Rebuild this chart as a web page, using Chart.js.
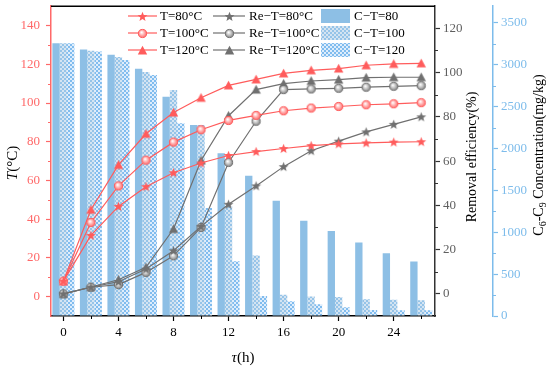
<!DOCTYPE html>
<html>
<head>
<meta charset="utf-8">
<script src="https://cdn.jsdelivr.net/npm/chart.js@4.4.0/dist/chart.umd.min.js"></script>
<style>
html, body { margin: 0; padding: 0; background: #fff; }
</style>
</head>
<body>
<canvas id="mycanvas" width="550" height="369"></canvas>
<script>
// data
var hours = [0, 2, 4, 6, 8, 10, 12, 14, 16, 18, 20, 22, 24, 26];

var tempT80  = [8, 31.6, 46.6, 56.8, 64.0, 69.0, 72.9, 74.9, 76.5, 78.0, 78.9, 79.4, 79.8, 80.0];
var tempT100 = [8, 38.3, 57.2, 70.5, 79.8, 86.2, 91.0, 93.6, 96.0, 97.4, 98.2, 99.1, 99.6, 100.2];
var tempT120 = [8, 44.9, 68.0, 84.1, 95.1, 102.7, 109.1, 112.2, 115.3, 116.9, 117.8, 119.5, 120.2, 120.5];

var remT80  = [0, 3.0, 5.5, 11.2, 19.5, 30.5, 40.5, 48.8, 57.5, 64.7, 69.0, 73.2, 76.6, 80.0];
var remT100 = [0, 3.0, 4.2, 9.7, 17.2, 30.0, 59.4, 78.0, 92.3, 92.6, 92.9, 93.4, 93.8, 94.1];
var remT120 = [0, 3.1, 6.4, 12.0, 29.3, 60.3, 80.5, 92.3, 95.0, 96.2, 96.8, 97.7, 97.9, 97.9];

var concT80  = [3258, 3183, 3119, 2952, 2619, 2282, 1945, 1675, 1377, 1139, 1016, 877, 750, 651];
var concT100 = [3258, 3167, 3092, 2913, 2700, 2282, 1310, 723, 255, 234, 226, 199, 195, 187];
var concT120 = [3258, 3160, 3056, 2877, 2302, 1290, 655, 238, 175, 139, 104, 72, 68, 68];

var xTicks = [0, 4, 8, 12, 16, 20, 24];
var tTicks = [0, 20, 40, 60, 80, 100, 120, 140];
var reTicks = [0, 20, 40, 60, 80, 100, 120];
var concTicks = [0, 500, 1000, 1500, 2000, 2500, 3000, 3500];

var FONT = 'Liberation Serif';
var red = 'rgb(255,92,92)';
var redAxis = 'rgb(255,105,105)';
var gray = 'rgb(112,112,112)';
var blueAxis = 'rgb(125,188,235)';
var solidBlue = 'rgb(141,191,229)';

function makeMarker(shape, color, light) {
    var c = document.createElement('canvas');
    c.width = 11; c.height = 11;
    var g = c.getContext('2d');
    g.fillStyle = color; g.strokeStyle = color; g.lineWidth = 1;
    g.beginPath();
    if (shape == 'star') {
        for (var i = 0; i < 10; i++) {
            var r = i % 2 ? 2.2 : 5.2;
            var a = -Math.PI / 2 + i * Math.PI / 5;
            var px = 5.5 + r * Math.cos(a), py = 5.9 + r * Math.sin(a);
            if (i) g.lineTo(px, py); else g.moveTo(px, py);
        }
        g.closePath(); g.fill();
    } else if (shape == 'tri') {
        g.moveTo(5.5, 0.8); g.lineTo(10.2, 9.6); g.lineTo(0.8, 9.6);
        g.closePath(); g.fill();
    } else {
        var grd = g.createRadialGradient(4.5, 4.3, 0.3, 5.5, 5.5, 4.8);
        grd.addColorStop(0, '#ffffff');
        grd.addColorStop(0.5, light);
        grd.addColorStop(1, color);
        g.fillStyle = grd;
        g.arc(5.5, 5.5, 4.1, 0, Math.PI * 2);
        g.fill(); g.stroke();
    }
    return c;
}

function makeChecker(c1, c2) {
    var t = document.createElement('canvas');
    t.width = 4; t.height = 4;
    var g = t.getContext('2d');
    g.fillStyle = c1; g.fillRect(0, 0, 4, 4);
    g.fillStyle = c2; g.fillRect(0, 0, 2, 2); g.fillRect(2, 2, 2, 2);
    return g.createPattern(t, 'repeat');
}

var pat100 = makeChecker('rgb(150,196,232)', 'rgb(212,228,242)');
var pat120 = makeChecker('rgb(128,188,238)', 'rgb(222,237,252)');

function lineSet(label, data, axis, color, marker) {
    return {
        type: 'line', label: label, data: data, yAxisID: axis,
        borderColor: color, backgroundColor: color, borderWidth: 1.2,
        tension: 0, fill: false, pointStyle: marker, pointRadius: 5, order: 1
    };
}

function barSet(label, data, fillStyle) {
    return {
        type: 'bar', label: label, data: data, yAxisID: 'yC',
        backgroundColor: fillStyle, borderWidth: 0,
        categoryPercentage: 0.8, barPercentage: 1.0, order: 2
    };
}

var datasets = [
    lineSet('T=80°C', tempT80, 'yT', red, makeMarker('star', red)),
    lineSet('T=100°C', tempT100, 'yT', red, makeMarker('circle', red, 'rgb(255,170,170)')),
    lineSet('T=120°C', tempT120, 'yT', red, makeMarker('tri', red)),
    lineSet('Re−T=80°C', remT80, 'yR', gray, makeMarker('star', gray)),
    lineSet('Re−T=100°C', remT100, 'yR', gray, makeMarker('circle', gray, 'rgb(190,190,190)')),
    lineSet('Re−T=120°C', remT120, 'yR', gray, makeMarker('tri', gray)),
    barSet('C−T=80', concT80, solidBlue),
    barSet('C−T=100', concT100, pat100),
    barSet('C−T=120', concT120, pat120)
];

function fixedTicks(list) {
    return function (axis) { axis.ticks = list.map(function (v) { return { value: v }; }); };
}

function vFit(w) {
    return function (s) { s.width = w; s.paddingTop = 0; s.paddingBottom = 0; };
}

function yScale(pos, min, max, list, color, labelColor, width, weight) {
    return {
        type: 'linear', position: pos, min: min, max: max, weight: weight,
        afterBuildTicks: fixedTicks(list),
        afterFit: vFit(width),
        grid: { drawOnChartArea: false, color: color, tickLength: 5, tickWidth: 1.2 },
        border: { color: color, width: 1.5 },
        ticks: {
            color: labelColor, font: { family: FONT, size: 13 }, padding: pos == 'left' ? 6 : 3,
            callback: function (v) { return String(v); }
        }
    };
}

function minorTicks(c, scale, first, step, horiz, color, dir) {
    c.strokeStyle = color; c.lineWidth = 1;
    for (var v = first; v < scale.max; v += step) {
        if (v <= scale.min) continue;
        var p = Math.round(scale.getPixelForValue(v)) + 0.5;
        c.beginPath();
        if (horiz) {
            c.moveTo(p, scale.top); c.lineTo(p, scale.top + 3);
        } else {
            var e = dir < 0 ? scale.right : scale.left;
            c.moveTo(e, p); c.lineTo(e + dir * 3, p);
        }
        c.stroke();
    }
}

function drawRuns(c, runs, x, y) {
    // runs: [text, fontString, yShift]
    runs.forEach(function (r) {
        c.font = r[1];
        c.fillText(r[0], x, y + (r[2] || 0));
        x += c.measureText(r[0]).width;
    });
}

function runsWidth(c, runs) {
    var w = 0;
    runs.forEach(function (r) { c.font = r[1]; w += c.measureText(r[0]).width; });
    return w;
}

var decor = {
    id: 'decor',
    afterDraw: function (chart) {
        var c = chart.ctx, a = chart.chartArea, s = chart.scales;
        c.save();

        // frame on top
        c.strokeStyle = '#000'; c.lineWidth = 1.5;
        c.beginPath(); c.moveTo(a.left, a.top); c.lineTo(a.right, a.top); c.stroke();

        minorTicks(c, s.x, 2, 4, true, '#000', 1);
        minorTicks(c, s.yT, -10, 20, false, redAxis, -1);
        minorTicks(c, s.yR, -10, 20, false, '#333', 1);
        minorTicks(c, s.yC, 250, 500, false, blueAxis, 1);

        // legend
        var rows = [16, 33, 50];
        var ds = chart.data.datasets;
        c.textBaseline = 'middle';
        c.fillStyle = '#000';
        for (var i = 0; i < 3; i++) {
            var cols = [[ds[i], 128, 157, 160], [ds[i + 3], 213, 245, 249]];
            cols.forEach(function (col) {
                var d = col[0];
                c.strokeStyle = d.borderColor; c.lineWidth = 1.2;
                c.beginPath(); c.moveTo(col[1], rows[i]); c.lineTo(col[2], rows[i]); c.stroke();
                var m = d.pointStyle;
                c.drawImage(m, Math.round((col[1] + col[2]) / 2 - m.width / 2), Math.round(rows[i] - m.height / 2));
                c.fillStyle = '#000';
                c.font = '13px "' + FONT + '"';
                c.fillText(d.label, col[3], rows[i] + 1);
            });
            var b = ds[i + 6];
            c.fillStyle = b.backgroundColor;
            c.fillRect(321, rows[i] - 7, 29, 14);
            c.fillStyle = '#000';
            c.font = '13px "' + FONT + '"';
            c.fillText(b.label, 354, rows[i] + 1);
        }

        // axis titles
        var reg = '15px "' + FONT + '"', ita = 'italic 15px "' + FONT + '"';
        c.fillStyle = '#000';
        c.textBaseline = 'middle';
        c.textAlign = 'left';

        var tRuns = [['T', ita], ['(°C)', reg]];
        c.save();
        c.translate(13, 163); c.rotate(-Math.PI / 2);
        drawRuns(c, tRuns, -runsWidth(c, tRuns) / 2, 0);
        c.restore();

        var xRuns = [['τ', ita], ['(h)', reg]];
        drawRuns(c, xRuns, 243 - runsWidth(c, xRuns) / 2, 358);

        var r14 = '14px "' + FONT + '"', sub = '10px "' + FONT + '"';
        var rRuns = [['Removal efficiency(%)', r14]];
        c.save();
        c.translate(472, 157); c.rotate(-Math.PI / 2);
        drawRuns(c, rRuns, -runsWidth(c, rRuns) / 2, 0);
        c.restore();

        var cRuns = [['C', r14], ['6', sub, 4], ['-C', r14], ['9', sub, 4], [' Concentration(mg/kg)', r14]];
        c.save();
        c.translate(539, 155); c.rotate(-Math.PI / 2);
        drawRuns(c, cRuns, -runsWidth(c, cRuns) / 2, 0);
        c.restore();

        c.restore();
    }
};

var ctx = document.getElementById('mycanvas');
var chart = new Chart(ctx, {
    type: 'bar',
    data: { labels: hours, datasets: datasets },
    options: {
        responsive: false,
        animation: false,
        devicePixelRatio: 1,
        layout: { padding: { top: 6, left: 0, right: 0, bottom: 0 } },
        plugins: { legend: { display: false }, tooltip: { enabled: false } },
        scales: {
            x: {
                type: 'linear', min: -0.9, max: 27, offset: false,
                afterBuildTicks: fixedTicks(xTicks),
                afterFit: function (s) { s.height = 53; s.paddingLeft = 0; s.paddingRight = 0; },
                grid: { drawOnChartArea: false, offset: false, color: '#000', tickLength: 5, tickWidth: 1.2 },
                border: { color: '#000', width: 1.5 },
                ticks: { color: '#000', font: { family: FONT, size: 13 }, padding: 4, maxRotation: 0 }
            },
            yT: yScale('left', -10, 150, tTicks, redAxis, redAxis, 51, 0),
            yR: yScale('right', -10, 130, reTicks, '#333', 'rgb(95,95,95)', 58, 0),
            yC: yScale('right', 0, 3700, concTicks, blueAxis, blueAxis, 57, 1)
        }
    },
    plugins: [decor]
});
</script>
</body>
</html>
